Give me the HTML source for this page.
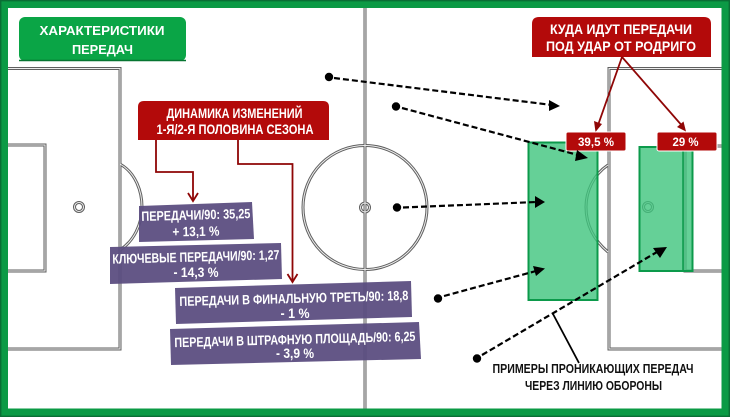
<!DOCTYPE html>
<html><head><meta charset="utf-8"><style>
html,body{margin:0;padding:0;background:#fff}
svg{display:block}
text{font-family:"Liberation Sans",sans-serif;font-weight:bold;text-anchor:middle}
.w{fill:#fff}
.pitch{fill:none;stroke:#5f5f5f;stroke-width:3}
.pitch2{fill:none;stroke:#eeeeee;stroke-width:1}
.dash{fill:none;stroke:#000;stroke-width:2.2;stroke-dasharray:6 3}
.red{fill:none;stroke:#8f0606;stroke-width:1.800}
</style></head><body>
<svg width="730" height="417" viewBox="0 0 730 417" xmlns="http://www.w3.org/2000/svg">
<rect width="730" height="417" fill="#fff"/>
<defs>
<g id="lines">
<path d="M8 68.500H120V349H8M8 145H45V271H8"/>
<path d="M120 164C136 173 142 192 142 207C142 224 134 241 120 250"/>
<circle cx="79" cy="207" r="4.500"/>
<path d="M365 8V409"/>
<circle cx="365" cy="207.500" r="62"/>
<circle cx="365" cy="207.500" r="4.500"/>
<path d="M722 68.500H609V349H722M722 146H685V271H722"/>
<path d="M608 165C593 175 586 192 586 207C586 226 595 241 608 252"/>
<circle cx="648" cy="207" r="4.500"/>
</g>
</defs>
<use href="#lines" class="pitch"/>
<use href="#lines" class="pitch2"/>

<rect x="528.500" y="142.500" width="69" height="157.500" fill="#3fc47d" fill-opacity=".8" stroke="#0c9a4b" stroke-width="2"/>
<rect x="639.500" y="147" width="53" height="124" fill="#3fc47d" fill-opacity=".8" stroke="#0c9a4b" stroke-width="2"/>
<path d="M683 147V271" stroke="#0c9a4b" stroke-width="1.500"/>

<path d="M4 4H725.500V412.500H4Z" fill="none" stroke="#0b9a45" stroke-width="8"/>
<path d="M.7.7H729.300V416.300H.7Z" fill="none" stroke="#0a6e35" stroke-width="1.400"/>

<rect x="19" y="17" width="167" height="44" rx="6" fill="#0aa546"/>
<path d="M19 60.500H186" stroke="#067531" stroke-width="1.500"/>
<text class="w" x="102" y="35" font-size="13" textLength="125" lengthAdjust="spacingAndGlyphs">ХАРАКТЕРИСТИКИ</text>
<text class="w" x="102.500" y="54" font-size="13" textLength="61" lengthAdjust="spacingAndGlyphs">ПЕРЕДАЧ</text>

<path d="M138 140V107Q138 101 144 101H323Q329 101 329 107V140Z" fill="#b30a0a"/>
<text class="w" x="234.500" y="118" font-size="13.500" textLength="136" lengthAdjust="spacingAndGlyphs">ДИНАМИКА ИЗМЕНЕНИЙ</text>
<text class="w" x="235" y="134" font-size="13.500" textLength="157" lengthAdjust="spacingAndGlyphs">1-Я/2-Я ПОЛОВИНА СЕЗОНА</text>

<path class="red" d="M156 140V172H193V200"/>
<path class="red" d="M188 193L193 201L198 193"/>
<path class="red" d="M238 140V164H292.500V282"/>
<path class="red" d="M287.500 274L292.500 282L297.500 274"/>

<path d="M139 206L252 202L254 239L139 242Z" fill="#5a4c80" fill-opacity=".94"/>
<text class="w" x="196" y="219.500" font-size="13.500" textLength="109" lengthAdjust="spacingAndGlyphs" transform="rotate(-1.500 196 220)">ПЕРЕДАЧИ/90: 35,25</text>
<text class="w" x="196" y="236" font-size="13.500" textLength="47" lengthAdjust="spacingAndGlyphs" transform="rotate(-1 196 236)">+ 13,1 %</text>

<path d="M110 247L281 243L282 279L110 284Z" fill="#5a4c80" fill-opacity=".94"/>
<text class="w" x="196" y="261.500" font-size="13.500" textLength="167" lengthAdjust="spacingAndGlyphs" transform="rotate(-1.500 196 262)">КЛЮЧЕВЫЕ ПЕРЕДАЧИ/90: 1,27</text>
<text class="w" x="196" y="277" font-size="13.500" textLength="45" lengthAdjust="spacingAndGlyphs">- 14,3 %</text>

<path d="M175 288L411 281L412 317L176 324Z" fill="#5a4c80" fill-opacity=".94"/>
<text class="w" x="294" y="303" font-size="13.500" textLength="229" lengthAdjust="spacingAndGlyphs" transform="rotate(-1.500 294 303)">ПЕРЕДАЧИ В ФИНАЛЬНУЮ ТРЕТЬ/90: 18,8</text>
<text class="w" x="295" y="318" font-size="13.500" textLength="29" lengthAdjust="spacingAndGlyphs">- 1 %</text>

<path d="M170 329L419 322L421 359L171 365Z" fill="#5a4c80" fill-opacity=".94"/>
<text class="w" x="295" y="344" font-size="13.500" textLength="241" lengthAdjust="spacingAndGlyphs" transform="rotate(-1.500 295 344)">ПЕРЕДАЧИ В ШТРАФНУЮ ПЛОЩАДЬ/90: 6,25</text>
<text class="w" x="295" y="358" font-size="13.500" textLength="38" lengthAdjust="spacingAndGlyphs">- 3,9 %</text>

<path d="M532 57V24Q532 17 539 17H704Q711 17 711 24V57Z" fill="#b30a0a"/>
<text class="w" x="621" y="34" font-size="14" textLength="142" lengthAdjust="spacingAndGlyphs">КУДА ИДУТ ПЕРЕДАЧИ</text>
<text class="w" x="621" y="51" font-size="14" textLength="150" lengthAdjust="spacingAndGlyphs">ПОД УДАР ОТ РОДРИГО</text>

<path class="red" d="M622 57L597 128"/>
<path d="M594 121L595.500 132L602 124Z" fill="#8f0606"/>
<path class="red" d="M622 57L684 128"/>
<path d="M677 127L686 131.500L683.500 121.500Z" fill="#8f0606"/>

<rect x="566" y="132" width="60" height="19" rx="2" fill="#b30a0a" stroke="#fff" stroke-width="1"/>
<text class="w" x="596" y="146" font-size="12" font-weight="normal" textLength="36" lengthAdjust="spacingAndGlyphs">39,5 %</text>
<rect x="657" y="132" width="60" height="19" rx="2" fill="#b30a0a" stroke="#fff" stroke-width="1"/>
<text class="w" x="685.500" y="146" font-size="12" font-weight="normal" textLength="26" lengthAdjust="spacingAndGlyphs">29 %</text>

<circle cx="329" cy="77" r="4.200" fill="#000"/>
<path class="dash" d="M334 78L552 105"/>
<path d="M549 100L560 106L549 111Z" fill="#000"/>
<circle cx="396" cy="106.500" r="4.200" fill="#000"/>
<path class="dash" d="M402 108L578 155"/>
<path d="M577 150L588 158L575 161Z" fill="#000"/>
<circle cx="397" cy="207.500" r="4.200" fill="#000"/>
<path class="dash" d="M403 207.500L537 202"/>
<path d="M535 196L545 202L535 208Z" fill="#000"/>
<circle cx="438" cy="298.500" r="4.200" fill="#000"/>
<path class="dash" d="M444 296L536 271"/>
<path d="M533 266L545 268.500L536 276Z" fill="#000"/>
<circle cx="477" cy="358.500" r="4.200" fill="#000"/>
<path class="dash" d="M482 355L657 252"/>
<path d="M653 248L667 247L660 258Z" fill="#000"/>
<path d="M553 314L579 363" stroke="#000" stroke-width="1.800" fill="none"/>

<text x="593" y="373" font-size="13" fill="#111" textLength="201" lengthAdjust="spacingAndGlyphs">ПРИМЕРЫ ПРОНИКАЮЩИХ ПЕРЕДАЧ</text>
<text x="593.500" y="390" font-size="13" fill="#111" textLength="137" lengthAdjust="spacingAndGlyphs">ЧЕРЕЗ ЛИНИЮ ОБОРОНЫ</text>
</svg>
</body></html>
